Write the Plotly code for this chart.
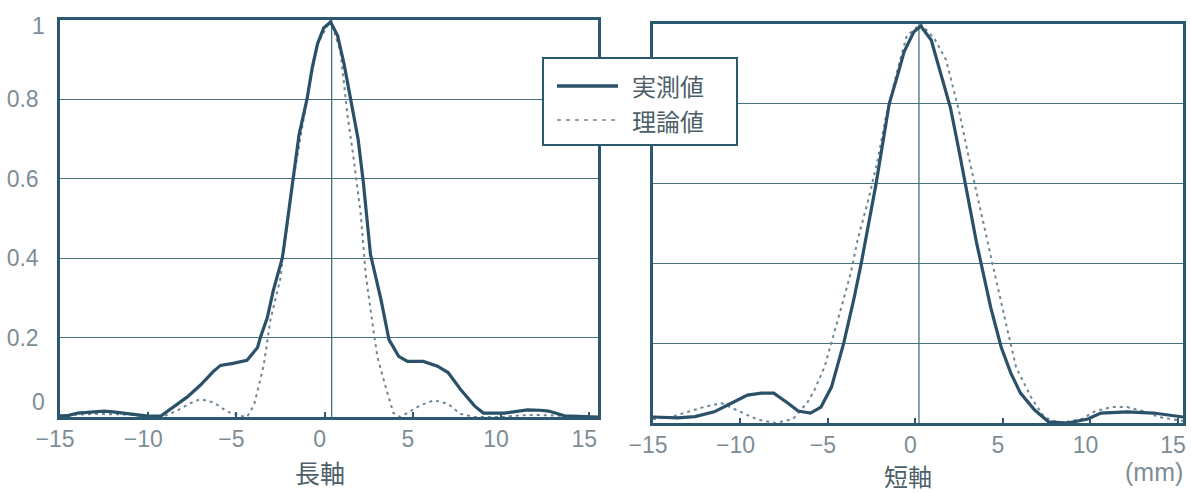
import plotly.graph_objects as go

# ---- long axis (長軸) profile ----
long_x_meas = [-15.0, -14.5, -14.0, -13.5, -13.0, -12.5, -12.0, -11.5, -11.0, -10.5, -10.0,
               -9.3, -8.6, -7.8, -7.05, -6.3, -5.9, -5.2, -4.4, -3.8, -3.64, -3.25, -2.9,
               -2.4, -2.3, -1.8, -1.45, -1.0, -0.7, -0.4, -0.05, 0.34, 0.74, 1.1, 1.5, 1.9,
               2.2, 2.6, 3.2, 3.65, 4.2, 4.7, 5.6, 6.4, 7.0, 7.7, 8.5, 9.0, 10.2, 11.0, 11.5,
               12.2, 12.7, 13.6, 14.4, 15.5]
long_y_meas = [0.002, 0.004, 0.01, 0.012, 0.014, 0.015, 0.013, 0.01, 0.006, 0.003, 0.002,
               0.002, 0.025, 0.05, 0.08, 0.115, 0.13, 0.135, 0.143, 0.175, 0.2, 0.25, 0.32,
               0.4, 0.43, 0.6, 0.71, 0.8, 0.88, 0.94, 0.98, 0.995, 0.96, 0.89, 0.8, 0.7,
               0.59, 0.41, 0.295, 0.195, 0.153, 0.14, 0.14, 0.128, 0.112, 0.07, 0.028, 0.01,
               0.01, 0.016, 0.018, 0.017, 0.015, 0.003, 0.001, 0.0]

long_x_theo = [-15.0, -13.0, -11.0, -10.0, -9.0, -8.4, -7.6, -7.05, -6.3, -5.5, -4.8, -4.4,
               -4.0, -3.45, -3.07, -2.5, -2.4, -1.8, -1.0, -0.4, 0.34, 0.9, 1.3, 1.65, 2.05,
               2.33, 2.7, 3.0, 3.5, 3.9, 4.3, 4.7, 5.45, 6.2, 7.0, 7.7, 8.5, 10.0, 11.0, 12.0,
               13.0, 14.0, 15.5]
long_y_theo = [0.004, 0.008, 0.006, 0.0, 0.004, 0.015, 0.035, 0.045, 0.037, 0.013, 0.003, 0.0,
               0.03, 0.13, 0.245, 0.35, 0.39, 0.59, 0.8, 0.94, 1.0, 0.92, 0.76, 0.65, 0.51,
               0.36, 0.24, 0.15, 0.07, 0.01, 0.0, 0.01, 0.03, 0.042, 0.033, 0.008, 0.0, 0.0,
               0.004, 0.005, 0.004, 0.002, 0.0]

# ---- short axis (短軸) profile ----
short_x_meas = [-15.0, -13.6, -12.6, -11.5, -10.5, -9.6, -8.8, -8.1, -7.3, -6.7, -6.0, -5.4,
                -4.8, -4.1, -3.5, -3.1, -2.25, -1.8, -1.5, -1.0, -0.65, -0.1, 0.3, 0.9, 1.35,
                2.0, 2.5, 2.9, 3.5, 4.3, 4.9, 5.45, 6.0, 6.8, 7.6, 8.7, 9.85, 10.6, 12.1, 13.6,
                15.0, 15.3]
short_y_meas = [0.015, 0.013, 0.016, 0.028, 0.05, 0.07, 0.075, 0.075, 0.05, 0.03, 0.025, 0.04,
                0.09, 0.2, 0.315, 0.4, 0.6, 0.725, 0.8, 0.875, 0.93, 0.98, 0.995, 0.96, 0.89,
                0.79, 0.68, 0.59, 0.45, 0.29, 0.19, 0.125, 0.075, 0.033, 0.003, 0.0, 0.01,
                0.025, 0.028, 0.025, 0.018, 0.015]

short_x_theo = [-15.0, -14.0, -13.6, -13.0, -12.1, -11.1, -10.1, -9.0, -8.0, -7.0, -6.6, -6.2,
                -5.8, -5.2, -4.65, -4.25, -3.7, -3.3, -2.66, -2.16, -1.7, -1.0, -0.5, 0.3,
                1.06, 1.75, 2.5, 3.0, 3.55, 4.0, 4.5, 5.3, 5.75, 6.6, 7.35, 8.2, 9.5, 10.3,
                11.2, 12.1, 13.0, 13.9, 15.3]
short_y_theo = [0.01, 0.015, 0.02, 0.028, 0.04, 0.05, 0.03, 0.008, 0.0, 0.01, 0.03, 0.05,
                0.08, 0.14, 0.225, 0.29, 0.375, 0.46, 0.565, 0.66, 0.765, 0.89, 0.97, 1.0,
                0.965, 0.91, 0.78, 0.675, 0.565, 0.475, 0.38, 0.225, 0.14, 0.065, 0.015, 0.0,
                0.01, 0.03, 0.04, 0.04, 0.03, 0.015, 0.005]

# centre markers (peak positions) of each profile
long_center = 0.4
short_center = 0.2

x_ticks = [-15, -10, -5, 0, 5, 10, 15]
grid_vals = [0.2, 0.4, 0.6, 0.8]
edge_labels = [(0.0, "0"), (1.0, "1")]

legend_names = ["実測値", "理論値"]
axis_titles = ["長軸", "短軸"]
unit_label = "(mm)"

W, H = 1191, 493
FRAME = "#2c5870"
GRID = "#46717f"
MEAS = "#2a5168"
THEO = "#6f8795"
TICKTXT = "#7d8d96"
CJKTXT = "#4c5f69"
NUMFONT = "Liberation Sans"
CJKFONT = "Noto Sans CJK JP"


def px_x(p):
    return p / W


def px_y(p):
    return 1 - p / H


fig = go.Figure()

panels = [
    ("x", "y", long_x_meas, long_y_meas, long_x_theo, long_y_theo),
    ("x2", "y2", short_x_meas, short_y_meas, short_x_theo, short_y_theo),
]
for xa, ya, xm, ym, xt, yt in panels:
    fig.add_trace(go.Scatter(x=xt, y=yt, xaxis=xa, yaxis=ya, mode="lines",
                             line=dict(color=THEO, width=2, dash="3px,4px"),
                             showlegend=False))
    fig.add_trace(go.Scatter(x=xm, y=ym, xaxis=xa, yaxis=ya, mode="lines",
                             line=dict(color=MEAS, width=3.2),
                             showlegend=False))

common_x = dict(showgrid=False, zeroline=False, showline=True, mirror=True,
                linecolor=FRAME, linewidth=2.5, ticks="inside", ticklen=5,
                tickcolor=FRAME, tickwidth=1.5, tickvals=x_ticks, automargin=False,
                tickfont=dict(family=NUMFONT, size=23, color=TICKTXT),
                ticklabelshift=-5, ticklabelstandoff=0)
common_y = dict(range=[0, 1], showgrid=True, gridcolor=GRID, gridwidth=1.3,
                zeroline=False, showline=True, mirror=True, linecolor=FRAME,
                linewidth=2.5, ticks="", tickvals=grid_vals, automargin=False)

fig.update_layout(
    width=W, height=H, margin=dict(l=0, r=0, t=0, b=0, autoexpand=False),
    paper_bgcolor="white", plot_bgcolor="white",
    xaxis=dict(common_x, domain=[px_x(60), px_x(598)], range=[-15, 15.5],
               anchor="y"),
    yaxis=dict(common_y, domain=[px_y(417), px_y(20)], anchor="x",
               tickformat=".1f", ticklabelstandoff=14,
               tickfont=dict(family=NUMFONT, size=23, color=TICKTXT)),
    xaxis2=dict(common_x, domain=[px_x(653), px_x(1183)], range=[-15, 15.29],
                anchor="y2"),
    yaxis2=dict(common_y, domain=[px_y(423), px_y(24)], anchor="x2",
                showticklabels=False),
)

# vertical centre lines through each profile
for xr, yr, cx in [("x", "y", long_center), ("x2", "y2", short_center)]:
    fig.add_shape(type="line", xref=xr, yref=yr, x0=cx, x1=cx, y0=0, y1=1,
                  line=dict(color=GRID, width=1.3), layer="below")

# y labels at the ends of the scale
for val, txt in edge_labels:
    fig.add_annotation(x=px_x(47), xref="paper", y=val, yref="y",
                       text=txt, showarrow=False, xanchor="right", yanchor="middle",
                       yshift=15 if val == 0 else -6,
                       font=dict(family=NUMFONT, size=23, color=TICKTXT))

# axis titles
fig.add_annotation(x=px_x(320), y=px_y(472), xref="paper", yref="paper",
                   text=axis_titles[0], showarrow=False,
                   xanchor="center", yanchor="middle",
                   font=dict(family=CJKFONT, size=25, color=CJKTXT))
fig.add_annotation(x=px_x(908), y=px_y(475), xref="paper", yref="paper",
                   text=axis_titles[1], showarrow=False,
                   xanchor="center", yanchor="middle",
                   font=dict(family=CJKFONT, size=24, color=CJKTXT))
fig.add_annotation(x=px_x(1154), y=px_y(472), xref="paper", yref="paper",
                   text=unit_label, showarrow=False,
                   xanchor="center", yanchor="middle",
                   font=dict(family=NUMFONT, size=25, color=TICKTXT))

# legend box
fig.add_shape(type="rect", xref="paper", yref="paper",
              x0=px_x(543), x1=px_x(737), y0=px_y(145), y1=px_y(58),
              fillcolor="white", line=dict(color=FRAME, width=2), layer="above")
fig.add_shape(type="line", xref="paper", yref="paper",
              x0=px_x(557), x1=px_x(618), y0=px_y(86), y1=px_y(86),
              line=dict(color=MEAS, width=3.5), layer="above")
fig.add_shape(type="line", xref="paper", yref="paper",
              x0=px_x(557), x1=px_x(618), y0=px_y(120), y1=px_y(120),
              line=dict(color=THEO, width=1.5, dash="4px,5px"), layer="above")
for yy, name in zip([86, 121], legend_names):
    fig.add_annotation(x=px_x(630), y=px_y(yy), xref="paper", yref="paper",
                       text=name, showarrow=False, xanchor="left", yanchor="middle",
                       font=dict(family=CJKFONT, size=24, color=CJKTXT))

fig.write_html("out.html")
